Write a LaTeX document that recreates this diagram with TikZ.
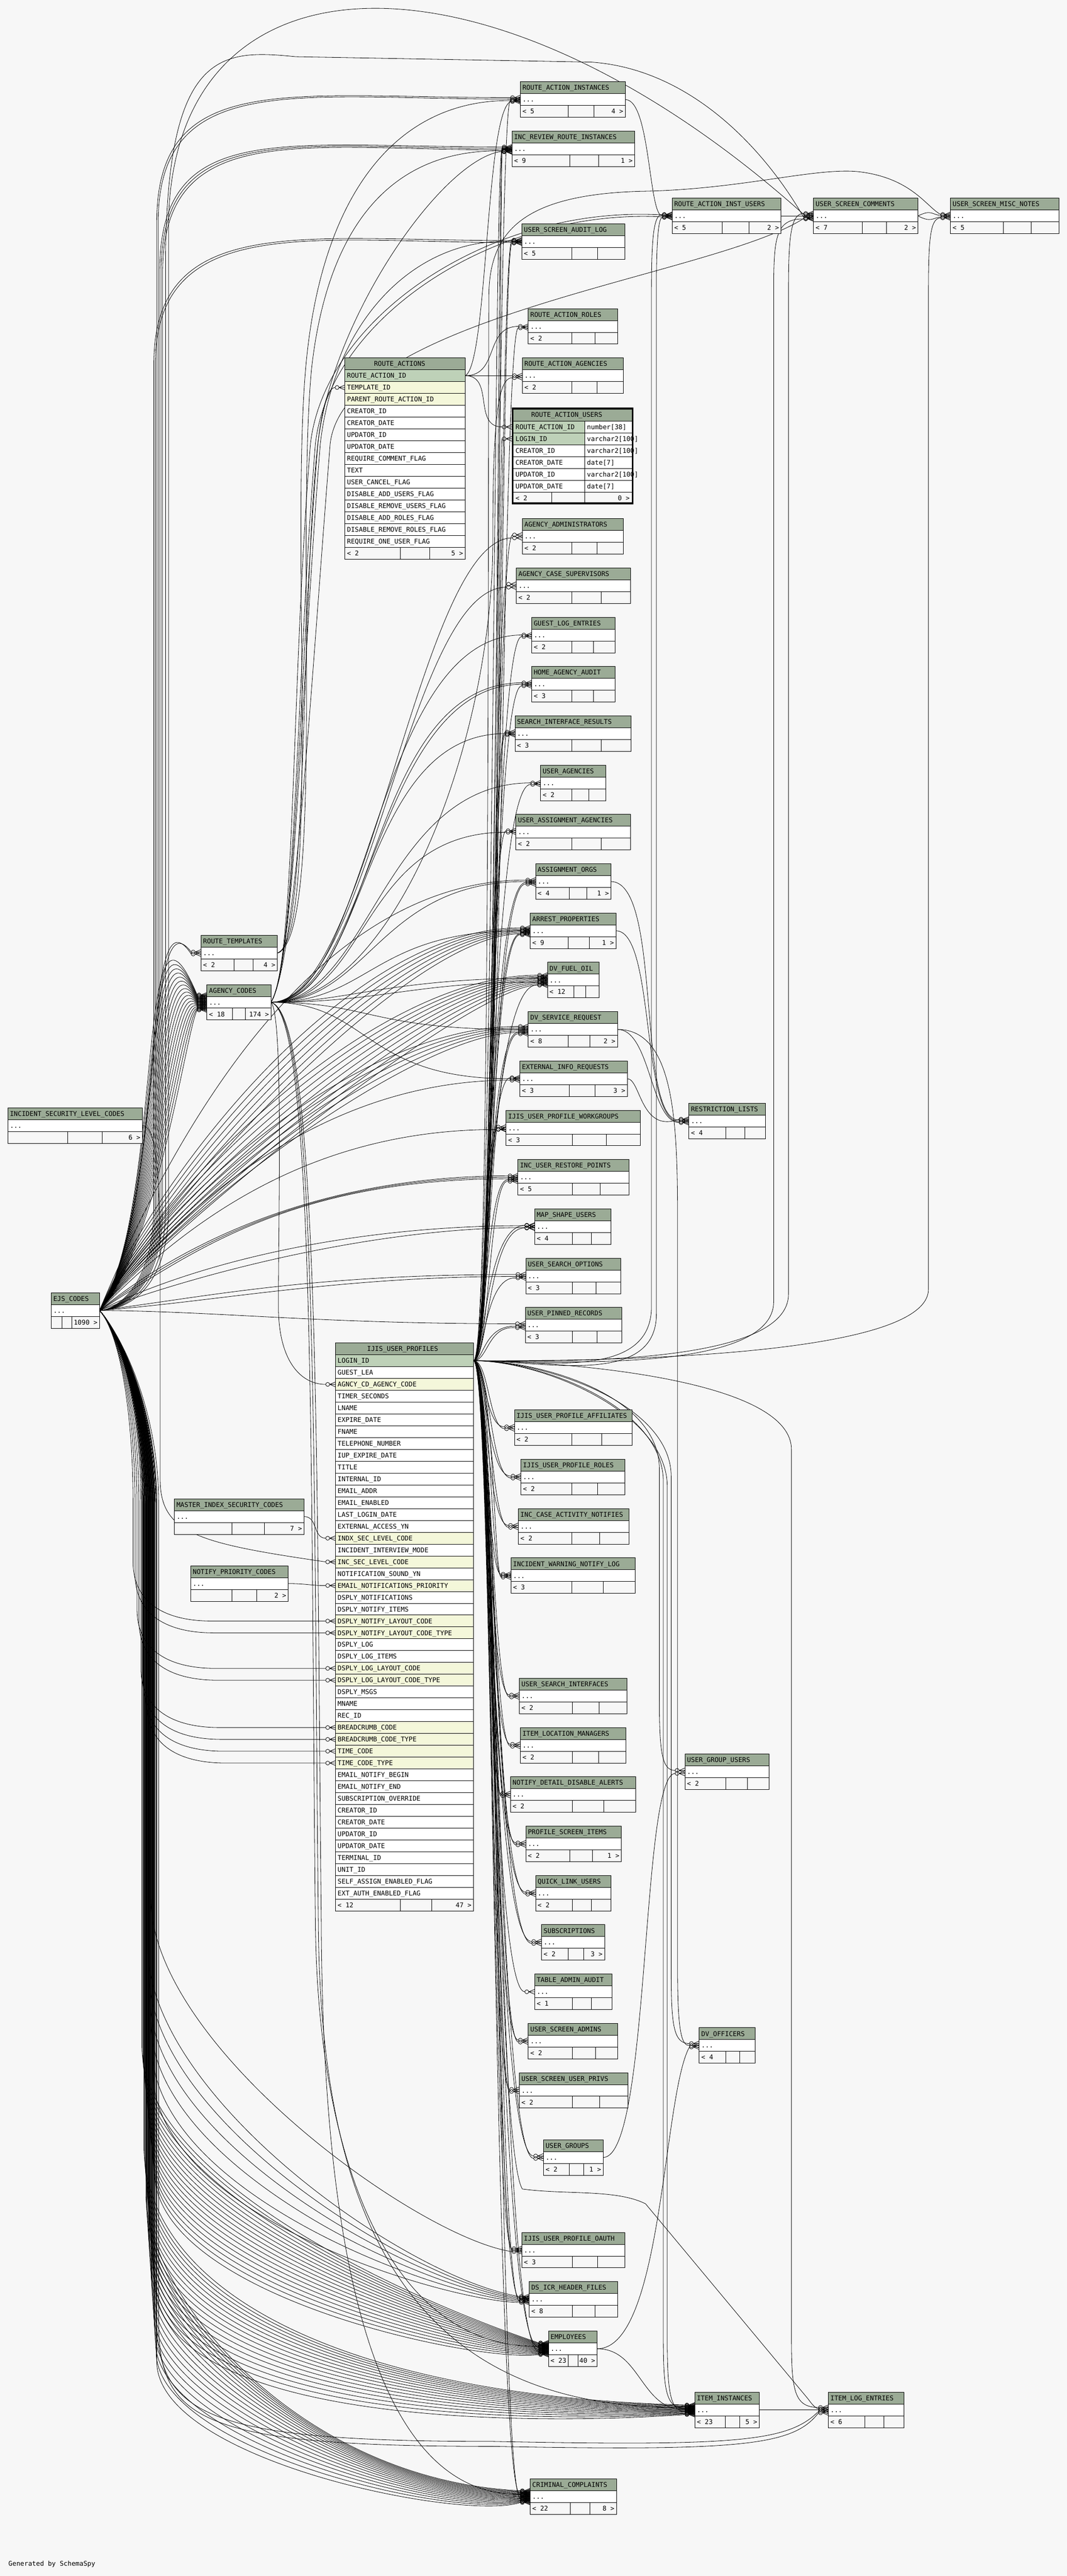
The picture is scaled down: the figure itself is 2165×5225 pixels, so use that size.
\documentclass[tikz,border=0pt]{standalone}
\usepackage{fontspec}
\newfontfamily\monofam{DejaVu Sans Mono}
\usetikzlibrary{calc}
\definecolor{bgc}{HTML}{F7F7F7}
\definecolor{hdr}{HTML}{9BAB96}
\definecolor{pkc}{HTML}{BED1B8}
\definecolor{fkc}{HTML}{F4F7DA}
\pgfdeclarelayer{bgl}
\pgfdeclarelayer{edges}
\pgfsetlayers{bgl,edges,main}
\tikzset{
  tt/.style={font=\monofam\fontsize{13.3}{15}\selectfont, inner sep=0pt, anchor=base west, text=black},
  ttr/.style={tt, anchor=base east},
  ttc/.style={tt, anchor=base},
  cell/.style={draw=black, line width=1pt},
  fk/.style={draw=black, line width=0.85pt},
  fkm/.style={draw=black, line width=0.85pt},
  tblnode/.style={inner sep=0pt, anchor=north west},
}
% small table: name, x1, y1, x2, title, left footer, right footer, div1, div2
\newcommand\smtbl[9]{%
  \filldraw[cell,fill=hdr] (#2,#3) rectangle (#4,#3+24);
  \filldraw[cell,fill=white] (#2,#3+24) rectangle (#4,#3+48);
  \filldraw[cell,fill=bgc] (#2,#3+48) rectangle (#4,#3+72);
  \draw[cell] (#8,#3+48) -- (#8,#3+72) (#9,#3+48) -- (#9,#3+72);
  \node[tt] at (#2+4,#3+16.8) {#5};
  \node[tt] at (#2+4,#3+40.8) {...};
  \node[tt] at (#2+4,#3+64.8) {#6};
  \node[ttr] at (#4-4,#3+64.8) {#7};
  \node[tblnode, minimum width={(#4-#2)*1pt}, minimum height=72pt] (#1) at (#2,#3) {};
  \coordinate (#1-in) at (#2,#3+36);
  \coordinate (#1-out) at (#4,#3+36);
}
% crow's foot with circle at a child port
\newcommand\crow[2]{%
  \draw[fkm] ($(#1)+({-16},{#2})$) circle[radius=4pt];
  \draw[fkm] ($(#1)+({-12},{#2})$) -- ($(#1)+({0},{#2-5})$) ($(#1)+({-12},{#2})$) -- ($(#1)+({0},{#2})$) ($(#1)+({-12},{#2})$) -- ($(#1)+({0},{#2+5})$);}
\newcommand\fkS[6]{\draw[fk] (#1) .. controls +(#3,0) and +(-#4,#6) .. ($(#2)+({-20},{#5})$); \crow{#2}{#5}}
\newcommand\eTop[5]{\draw[fk] (EJS-out) .. controls ({#2-70},2656) and (#2,2600) .. (#2,2450) -- ({#2},{#3+250}) .. controls ({#2},{#3-60}) and ({#2+#5},{#3+(#4)}) .. ($(#1-in)+({-20},{#4})$); \crow{#1-in}{#4}}
\newcommand\eMid[5]{\draw[fk] (EJS-out) .. controls ({#2},{#3}) and +({-#4},0) .. ($(#1-in)+({-20},{#5})$); \crow{#1-in}{#5}}
% EJS -> lower tables down the left corridor: child, xc, ybottom, h, c2x, c2y, dy
\newcommand\eLo[7]{\draw[fk] (EJS-out) .. controls (240,2700) and ({#2},2850) .. ({#2},3050) -- ({#2},{#3}) .. controls ({#2},{#3+#4}) and ({#5},{#6}) .. ($(#1-in)+({-20},{#7})$); \crow{#1-in}{#7}}
\newcommand\iL[4]{\draw[fk] (IJ-out) .. controls ({#2},2760) and ({#2},{#3}) .. ($(#1-in)+({-20},{#4})$); \crow{#1-in}{#4}}
\newcommand\iU[5]{\draw[fk] (IJ-out) .. controls (1100,2760) and ({#2},{#3}) .. ({#2},{#3-150}) -- ({#2},{#4+150}) .. controls ({#2},{#4+40}) and ({#2+5},{#4+(#5)}) .. ($(#1-in)+({-20},{#5})$); \crow{#1-in}{#5}}
\newcommand\iD[5]{\draw[fk] (IJ-out) .. controls (1100,2760) and ({#2},{#3}) .. ({#2},{#3+150}) -- ({#2},{#4-150}) .. controls ({#2},{#4-40}) and ({#2+5},{#4+(#5)}) .. ($(#1-in)+({-20},{#5})$); \crow{#1-in}{#5}}
\newcommand\eIJ[2]{\draw[fk] (EJS-out) .. controls (240,2700) and ({#2},2850) .. ({#2},3050) -- ({#2},{2616+24*#1}) .. controls ({#2},{2696+24*#1}) and ({#2+60},{2736+24*#1}) .. ({#2+160},{2736+24*#1}) -- ($(IJr#1)+(-20,0)$); \crow{IJr#1}{0}}
\newcommand\aTop[5]{\draw[fk] (AG-out) .. controls (600,1950) and ({#3-40},1400) .. ({#3},900) .. controls ({#3+30},640) and ({#4},{#5}) .. ($(#1-in)+({-20},{#2})$); \crow{#1-in}{#2}}

\begin{document}
\begin{tikzpicture}[x=1pt,y=-1pt]
\useasboundingbox (0,0) rectangle (2165,5225);
\begin{pgfonlayer}{bgl}
\fill[bgc] (0,0) rectangle (2165,5225);
\end{pgfonlayer}

% ---------------- tables ----------------
\smtbl{RAI}{1056}{166}{1269}{ROUTE\_ACTION\_INSTANCES}{< 5}{4 >}{1153}{1205}
\smtbl{IRRI}{1039}{266}{1288}{INC\_REVIEW\_ROUTE\_INSTANCES}{< 9}{1 >}{1156}{1215}
\smtbl{RAIU}{1364}{402}{1585}{ROUTE\_ACTION\_INST\_USERS}{< 5}{2 >}{1466}{1520}
\smtbl{USC}{1651}{402}{1863}{USER\_SCREEN\_COMMENTS}{< 7}{2 >}{1750}{1799}
\smtbl{USMN}{1929}{402}{2149}{USER\_SCREEN\_MISC\_NOTES}{< 5}{}{2036}{2093}
\smtbl{USAL}{1059}{454}{1268}{USER\_SCREEN\_AUDIT\_LOG}{< 5}{}{1160}{1213}
\smtbl{RAR}{1072}{626}{1253}{ROUTE\_ACTION\_ROLES}{< 2}{}{1160}{1207}
\smtbl{RAA}{1060}{726}{1265}{ROUTE\_ACTION\_AGENCIES}{< 2}{}{1160}{1212}
\smtbl{AA}{1060}{1052}{1265}{AGENCY\_ADMINISTRATORS}{< 2}{}{1160}{1212}
\smtbl{ACS}{1048}{1152}{1280}{AGENCY\_CASE\_SUPERVISORS}{< 2}{}{1160}{1220}
\smtbl{GLE}{1079}{1252}{1248}{GUEST\_LOG\_ENTRIES}{< 2}{}{1160}{1204}
\smtbl{HAA}{1079}{1352}{1248}{HOME\_AGENCY\_AUDIT}{< 3}{}{1160}{1204}
\smtbl{SIR}{1045}{1452}{1281}{SEARCH\_INTERFACE\_RESULTS}{< 3}{}{1160}{1220}
\smtbl{UA}{1097}{1552}{1229}{USER\_AGENCIES}{< 2}{}{1160}{1195}
\smtbl{UAA}{1047}{1652}{1280}{USER\_ASSIGNMENT\_AGENCIES}{< 2}{}{1160}{1220}
\smtbl{AO}{1087}{1752}{1240}{ASSIGNMENT\_ORGS}{< 4}{1 >}{1155}{1191}
\smtbl{ARP}{1076}{1852}{1250}{ARREST\_PROPERTIES}{< 9}{1 >}{1153}{1196}
\smtbl{DVFO}{1111}{1952}{1216}{DV\_FUEL\_OIL}{< 12}{}{1165}{1189}
\smtbl{DVSR}{1072}{2052}{1253}{DV\_SERVICE\_REQUEST}{< 8}{2 >}{1153}{1197}
\smtbl{EIR}{1055}{2152}{1273}{EXTERNAL\_INFO\_REQUESTS}{< 3}{3 >}{1155}{1207}
\smtbl{IUPW}{1027}{2252}{1299}{IJIS\_USER\_PROFILE\_WORKGROUPS}{< 3}{}{1161}{1230}
\smtbl{IURP}{1051}{2352}{1276}{INC\_USER\_RESTORE\_POINTS}{< 5}{}{1161}{1218}
\smtbl{MSU}{1085}{2452}{1240}{MAP\_SHAPE\_USERS}{< 4}{}{1161}{1200}
\smtbl{USO}{1067}{2552}{1260}{USER\_SEARCH\_OPTIONS}{< 3}{}{1161}{1210}
\smtbl{UPR}{1066}{2652}{1262}{USER\_PINNED\_RECORDS}{< 3}{}{1161}{1212}
\smtbl{RL}{1398}{2238}{1553}{RESTRICTION\_LISTS}{< 4}{}{1473}{1512}
\smtbl{RT}{408}{1897}{563}{ROUTE\_TEMPLATES}{< 2}{4 >}{475}{514}
\smtbl{AG}{420}{1997}{550}{AGENCY\_CODES}{< 18}{174 >}{471.5}{497.5}
\smtbl{ISLC}{16}{2247}{289}{INCIDENT\_SECURITY\_LEVEL\_CODES}{}{6 >}{137}{207}
\smtbl{EJS}{104}{2622}{202}{EJS\_CODES}{}{1090 >}{125.5}{146}
\smtbl{AFF}{1044}{2860}{1283}{IJIS\_USER\_PROFILE\_AFFILIATES}{< 2}{}{1160}{1221}
\smtbl{ROL}{1057}{2960}{1268}{IJIS\_USER\_PROFILE\_ROLES}{< 2}{}{1160}{1213}
\smtbl{ICAN}{1052}{3060}{1276}{INC\_CASE\_ACTIVITY\_NOTIFIES}{< 2}{}{1160}{1217}
\smtbl{IWNL}{1037}{3160}{1289}{INCIDENT\_WARNING\_NOTIFY\_LOG}{< 3}{}{1160}{1224}
\smtbl{MISC}{354}{3040}{617}{MASTER\_INDEX\_SECURITY\_CODES}{}{7 >}{471}{537}
\smtbl{NPC}{387}{3176}{585}{NOTIFY\_PRIORITY\_CODES}{}{2 >}{471}{521}
\smtbl{USI}{1054}{3404}{1272}{USER\_SEARCH\_INTERFACES}{< 2}{}{1161}{1216}
\smtbl{ILM}{1056}{3504}{1270}{ITEM\_LOCATION\_MANAGERS}{< 2}{}{1161}{1215}
\smtbl{NDDA}{1036}{3604}{1290}{NOTIFY\_DETAIL\_DISABLE\_ALERTS}{< 2}{}{1161}{1225}
\smtbl{PSI}{1067}{3704}{1261}{PROFILE\_SCREEN\_ITEMS}{< 2}{1 >}{1156}{1202}
\smtbl{QLU}{1087}{3804}{1240}{QUICK\_LINK\_USERS}{< 2}{}{1161}{1200}
\smtbl{SUB}{1099}{3904}{1227}{SUBSCRIPTIONS}{< 2}{3 >}{1153}{1184}
\smtbl{TAA}{1085}{4004}{1242}{TABLE\_ADMIN\_AUDIT}{< 1}{}{1161}{1200}
\smtbl{USA}{1072}{4104}{1253}{USER\_SCREEN\_ADMINS}{< 2}{}{1161}{1208}
\smtbl{USUP}{1054}{4204}{1274}{USER\_SCREEN\_USER\_PRIVS}{< 2}{}{1161}{1217}
\smtbl{UG}{1103}{4340}{1224}{USER\_GROUPS}{< 2}{1 >}{1155}{1184}
\smtbl{UGU}{1390}{3558}{1561}{USER\_GROUP\_USERS}{< 2}{}{1473}{1517}
\smtbl{DVO}{1419}{4113}{1532}{DV\_OFFICERS}{< 4}{}{1473}{1501}
\smtbl{OAU}{1059}{4528}{1268}{IJIS\_USER\_PROFILE\_OAUTH}{< 3}{}{1161}{1213}
\smtbl{DSI}{1074}{4628}{1253}{DS\_ICR\_HEADER\_FILES}{< 8}{}{1161}{1207}
\smtbl{EMP}{1113}{4728}{1212}{EMPLOYEES}{< 23}{40 >}{1153}{1173}
\smtbl{II}{1410}{4852}{1541}{ITEM\_INSTANCES}{< 23}{5 >}{1472}{1501}
\smtbl{ILE}{1681}{4852}{1834}{ITEM\_LOG\_ENTRIES}{< 6}{}{1755}{1794}
\smtbl{CC}{1076}{5028}{1251}{CRIMINAL\_COMPLAINTS}{< 22}{8 >}{1157}{1197.5}

% ROUTE_ACTIONS
\filldraw[cell,fill=hdr] (700,726) rectangle (944,750);
\node[ttc] at (811,742.8) {ROUTE\_ACTIONS};
\foreach \nm/\fc [count=\ii] in {ROUTE\_ACTION\_ID/pkc, TEMPLATE\_ID/fkc, PARENT\_ROUTE\_ACTION\_ID/fkc, CREATOR\_ID/white, CREATOR\_DATE/white, UPDATOR\_ID/white, UPDATOR\_DATE/white, REQUIRE\_COMMENT\_FLAG/white, TEXT/white, USER\_CANCEL\_FLAG/white, DISABLE\_ADD\_USERS\_FLAG/white, DISABLE\_REMOVE\_USERS\_FLAG/white, DISABLE\_ADD\_ROLES\_FLAG/white, DISABLE\_REMOVE\_ROLES\_FLAG/white, REQUIRE\_ONE\_USER\_FLAG/white}{%
  \filldraw[cell,fill=\fc] (700,{726+24*\ii}) rectangle (944,{750+24*\ii});
  \node[tt] at (704,{742.8+24*\ii}) {\nm};}
\filldraw[cell,fill=bgc] (700,1110) rectangle (944,1134);
\draw[cell] (812,1110) -- (812,1134) (872,1110) -- (872,1134);
\node[tt] at (704,1126.8) {< 2};
\node[ttr] at (940,1126.8) {5 >};
\node[tblnode, minimum width=244pt, minimum height=408pt] (RA) at (700,726) {};
\coordinate (RApk) at (944,762);
\coordinate (RAtm-in) at (700,786);

% ROUTE_ACTION_USERS (focus table)
\filldraw[cell,fill=hdr] (1039,827) rectangle (1285,854);
\node[ttc] at (1150,845.5) {ROUTE\_ACTION\_USERS};
\foreach \nm/\ty/\fc [count=\ii from 0] in {ROUTE\_ACTION\_ID/number[38]/pkc, LOGIN\_ID/varchar2[100]/pkc, CREATOR\_ID/varchar2[100]/white, CREATOR\_DATE/date[7]/white, UPDATOR\_ID/varchar2[100]/white, UPDATOR\_DATE/date[7]/white}{%
  \filldraw[cell,fill=\fc] (1039,{854+24*\ii}) rectangle (1187,{878+24*\ii});
  \filldraw[cell,fill=white] (1187,{854+24*\ii}) rectangle (1285,{878+24*\ii});
  \node[tt] at (1046,{870.8+24*\ii}) {\nm};
  \node[tt] at (1191,{870.8+24*\ii}) {\ty};}
\filldraw[cell,fill=bgc] (1039,998) rectangle (1285,1022);
\draw[cell] (1120,998) -- (1120,1022) (1187,998) -- (1187,1022);
\node[tt] at (1046,1014.8) {< 2};
\node[ttr] at (1278,1014.8) {0 >};
\draw[line width=3.5pt] (1040.5,828.5) rectangle (1283.5,1020.5);
\node[tblnode, minimum width=246pt, minimum height=195pt] (RAU) at (1039,827) {};
\coordinate (RAUra-in) at (1039,866);
\coordinate (RAUlg-in) at (1039,890);

% IJIS_USER_PROFILES
\filldraw[cell,fill=hdr] (681,2724) rectangle (961,2748);
\node[ttc] at (817,2740.8) {IJIS\_USER\_PROFILES};
\foreach \nm/\fc [count=\ii] in {LOGIN\_ID/pkc, GUEST\_LEA/white, AGNCY\_CD\_AGENCY\_CODE/fkc, TIMER\_SECONDS/white, LNAME/white, EXPIRE\_DATE/white, FNAME/white, TELEPHONE\_NUMBER/white, IUP\_EXPIRE\_DATE/white, TITLE/white, INTERNAL\_ID/white, EMAIL\_ADDR/white, EMAIL\_ENABLED/white, LAST\_LOGIN\_DATE/white, EXTERNAL\_ACCESS\_YN/white, INDX\_SEC\_LEVEL\_CODE/fkc, INCIDENT\_INTERVIEW\_MODE/white, INC\_SEC\_LEVEL\_CODE/fkc, NOTIFICATION\_SOUND\_YN/white, EMAIL\_NOTIFICATIONS\_PRIORITY/fkc, DSPLY\_NOTIFICATIONS/white, DSPLY\_NOTIFY\_ITEMS/white, DSPLY\_NOTIFY\_LAYOUT\_CODE/fkc, DSPLY\_NOTIFY\_LAYOUT\_CODE\_TYPE/fkc, DSPLY\_LOG/white, DSPLY\_LOG\_ITEMS/white, DSPLY\_LOG\_LAYOUT\_CODE/fkc, DSPLY\_LOG\_LAYOUT\_CODE\_TYPE/fkc, DSPLY\_MSGS/white, MNAME/white, REC\_ID/white, BREADCRUMB\_CODE/fkc, BREADCRUMB\_CODE\_TYPE/fkc, TIME\_CODE/fkc, TIME\_CODE\_TYPE/fkc, EMAIL\_NOTIFY\_BEGIN/white, EMAIL\_NOTIFY\_END/white, SUBSCRIPTION\_OVERRIDE/white, CREATOR\_ID/white, CREATOR\_DATE/white, UPDATOR\_ID/white, UPDATOR\_DATE/white, TERMINAL\_ID/white, UNIT\_ID/white, SELF\_ASSIGN\_ENABLED\_FLAG/white, EXT\_AUTH\_ENABLED\_FLAG/white}{%
  \filldraw[cell,fill=\fc] (681,{2724+24*\ii}) rectangle (961,{2748+24*\ii});
  \node[tt] at (685,{2740.8+24*\ii}) {\nm};}
\filldraw[cell,fill=bgc] (681,3852) rectangle (961,3876);
\draw[cell] (812,3852) -- (812,3876) (876,3852) -- (876,3876);
\node[tt] at (685,3868.8) {< 12};
\node[ttr] at (957,3868.8) {47 >};
\node[tblnode, minimum width=280pt, minimum height=1152pt] (IJ) at (681,2724) {};
\coordinate (IJ-out) at (961,2760);
\foreach \ii in {1,...,46}{\coordinate (IJr\ii) at (681,{2736+24*\ii});}

\node[tt] (gen) at (17,5205) {Generated by SchemaSpy};

% ---------------- connectors ----------------
\begin{pgfonlayer}{edges}
% ROUTE_ACTIONS children
\draw[fk] (RApk) .. controls +(70,0) and +(-70,0) .. ($(RAR-in)+(-20,0)$); \crow{RAR-in}{0}
\draw[fk] (RApk) -- ($(RAA-in)+(-20,0)$); \crow{RAA-in}{0}
\draw[fk] (RApk) .. controls +(60,0) and +(-60,0) .. ($(RAUra-in)+(-20,0)$); \crow{RAUra-in}{0}
\draw[fk] (RApk) .. controls (990,740) and (985,230) .. ($(RAI-in)+(-20,4)$); \crow{RAI-in}{4}
% ROUTE_TEMPLATES children
\draw[fk] (RT-out) .. controls (640,1933) and (600,786) .. ($(RAtm-in)+(-20,0)$); \crow{RAtm-in}{0}
\draw[fk] (RT-out) .. controls (650,1900) and (590,1100) .. (620,750) .. controls (650,400) and (800,202) .. ($(RAI-in)+(-20,2)$); \crow{RAI-in}{2}
\draw[fk] (RT-out) .. controls (660,1900) and (600,1100) .. (632,750) .. controls (665,450) and (800,302) .. ($(IRRI-in)+(-20,4)$); \crow{IRRI-in}{4}

% EJS_CODES -> AGENCY_CODES
\foreach \k in {0,...,17}{\draw[fk] (EJS-out) .. controls ({335-\k},{2450+5*\k}) and ({275+6*\k},{1720+22*\k}) .. ($(AG-in)+({-20},{-15+1.8*\k})$); \crow{AG-in}{-15+1.8*\k}}
% EJS_CODES -> ROUTE_TEMPLATES
\draw[fk] (EJS-out) .. controls (338,2440) and (290,1800) .. ($(RT-in)+(-20,-2)$); \crow{RT-in}{-2}
\draw[fk] (EJS-out) .. controls (342,2430) and (284,1780) .. ($(RT-in)+(-20,2)$); \crow{RT-in}{2}
% EJS_CODES -> top tables
\eTop{RAI}{318}{202}{-4}{260}
\eTop{RAI}{321}{202}{-1}{280}
\eTop{IRRI}{324}{302}{-4}{240}
\eTop{IRRI}{327}{302}{-1}{260}
\eTop{IRRI}{330}{302}{2}{280}
\eTop{USAL}{312}{490}{-2}{300}
\eTop{USAL}{315}{490}{2}{320}
\draw[fk] (EJS-out) .. controls (272,2656) and (342,2600) .. (342,2450) -- (342,450) .. controls (352,-120) and (1000,-130) .. ($(USC-in)+(-20,-3)$); \crow{USC-in}{-3}
\draw[fk] (EJS-out) .. controls (266,2656) and (336,2600) .. (336,2450) -- (336,520) .. controls (340,100) and (450,100) .. (600,115) -- (1200,126) .. controls (1400,140) and (1550,300) .. ($(USC-in)+(-20,3)$); \crow{USC-in}{3}
% EJS_CODES -> middle column
\eMid{AO}{330}{2350}{450}{-3}
\foreach \k in {0,...,5}{\eMid{ARP}{322+5*\k}{2380+8*\k}{350+25*\k}{-6+2.4*\k}}
\foreach \k in {0,...,8}{\eMid{DVFO}{330+5*\k}{2400+8*\k}{330+25*\k}{-10+2.5*\k}}
\foreach \k in {0,...,4}{\eMid{DVSR}{340+5*\k}{2430+8*\k}{330+30*\k}{-6+3*\k}}
\eMid{EIR}{350}{2470}{400}{3}
\eMid{IUPW}{360}{2500}{400}{3}
\foreach \k in {0,1,2}{\eMid{IURP}{370+10*\k}{2520+10*\k}{380-30*\k}{-3+3*\k}}
\eMid{MSU}{400}{2560}{350}{-2}
\eMid{MSU}{410}{2580}{300}{2}
\eMid{USO}{420}{2630}{420}{-3}
\eMid{USO}{440}{2640}{360}{1}
\eMid{UPR}{450}{2660}{400}{-3}
% EJS_CODES -> lower tables (down the left corridor, then fanning out)
\foreach \k in {0,...,17}{\eLo{EMP}{288+1.5*\k}{4150+15*\k}{250}{760+12*\k}{4640+9*\k}{-12+1.4*\k}}
\foreach \k in {0,...,15}{\eLo{II}{292+1.4*\k}{4350+18*\k}{300}{700+25*\k}{4860+4*\k}{-10+1.3*\k}}
\foreach \k in {0,...,17}{\eLo{CC}{296+1.3*\k}{4450+20*\k}{200}{600+20*\k}{5030+5*\k}{-12+1.4*\k}}
\foreach \k in {0,...,5}{\eLo{DSI}{300+2*\k}{3950+50*\k}{300}{820+20*\k}{4620+10*\k}{-6+2.4*\k}}
\eLo{OAU}{306}{3850}{300}{850}{4540}{3}
\draw[fk] (EJS-out) .. controls (240,2700) and (318,2850) .. (318,3050) -- (318,4700) .. controls (318,4900) and (420,4952) .. (1000,4952) .. controls (1500,4962) and (1600,4952) .. ($(ILE-in)+(-20,3)$); \crow{ILE-in}{3}
\draw[fk] (EJS-out) .. controls (240,2700) and (322,2850) .. (322,3050) -- (322,4710) .. controls (322,4910) and (410,4962) .. (1000,4962) .. controls (1510,4972) and (1610,4960) .. ($(ILE-in)+(-20,6)$); \crow{ILE-in}{6}
% EJS_CODES -> IJIS_USER_PROFILES code columns
\foreach \rr/\cx in {23/270,24/274,27/278,28/282,32/286,33/290,34/294,35/298}{\eIJ{\rr}{\cx}}
% other parents of IJIS_USER_PROFILES
\draw[fk] (AG-out) .. controls (575,2060) and (565,2450) .. (565,2650) .. controls (565,2760) and (610,2808) .. ($(IJr3)+(-20,0)$); \crow{IJr3}{0}
\draw[fk] (MISC-out) .. controls (645,3076) and (635,3120) .. ($(IJr16)+(-20,0)$); \crow{IJr16}{0}
\draw[fk] (ISLC-out) .. controls (320,2283) and (325,2400) .. (325,2600) -- (325,3000) .. controls (325,3110) and (400,3130) .. ($(IJr18)+(-20,0)$); \crow{IJr18}{0}
\draw[fk] (NPC-out) .. controls (620,3212) and (630,3216) .. ($(IJr20)+(-20,0)$); \crow{IJr20}{0}

% AGENCY_CODES children
\draw[fk] (AG-out) .. controls (800,2033) and (1000,1500) .. (1000,1100) .. controls (1000,850) and (1010,766) .. ($(RAA-in)+(-20,4)$); \crow{RAA-in}{4}
\fkS{AG-out}{AA-in}{200}{190}{3}{0}
\fkS{AG-out}{ACS-in}{200}{200}{3}{0}
\fkS{AG-out}{GLE-in}{200}{300}{0}{0}
\fkS{AG-out}{HAA-in}{200}{300}{0}{0}
\fkS{AG-out}{HAA-in}{215}{320}{-3}{0}
\fkS{AG-out}{SIR-in}{200}{300}{0}{0}
\fkS{AG-out}{UA-in}{200}{300}{0}{0}
\fkS{AG-out}{UAA-in}{200}{300}{0}{0}
\fkS{AG-out}{AO-in}{200}{300}{0}{0}
\fkS{AG-out}{ARP-in}{200}{300}{0}{0}
\fkS{AG-out}{DVFO-in}{150}{300}{-4}{0}
\fkS{AG-out}{DVFO-in}{220}{250}{4}{0}
\fkS{AG-out}{DVSR-in}{200}{300}{0}{0}
\fkS{AG-out}{EIR-in}{200}{300}{0}{0}
\aTop{RAIU}{-2}{630}{1000}{415}
\aTop{RAIU}{2}{640}{1010}{422}
\aTop{USAL}{0}{650}{850}{480}
\aTop{IRRI}{5}{645}{900}{320}
\aTop{USC}{5}{670}{1450}{560}
\draw[fk] (AG-out) .. controls (640,2060) and (630,3000) .. (640,3900) .. controls (645,4400) and (800,4764) .. ($(EMP-in)+(-20,-5)$); \crow{EMP-in}{-5}
\draw[fk] (AG-out) .. controls (645,2060) and (636,3000) .. (646,3900) .. controls (650,4600) and (900,4888) .. ($(II-in)+(-20,-5)$); \crow{II-in}{-5}
\draw[fk] (AG-out) .. controls (650,2060) and (642,3000) .. (652,3900) .. controls (655,4700) and (800,5064) .. ($(CC-in)+(-20,-5)$); \crow{CC-in}{-5}

% IJIS_USER_PROFILES children (left corridor)
\foreach \cn/\xv/\yc/\dy in {RAI/1008/202/1, IRRI/1002/302/-2, IRRI/1010/302/1, IRRI/1014/302/6, USAL/1012/490/-3, USAL/1016/490/3, RAR/1018/662/3, RAUlg/1012/890/0, AA/1006/1088/-3, ACS/1003/1188/-3, GLE/1000/1288/3, HAA/998/1388/3, SIR/996/1488/-3, SIR/1001/1488/2, UA/994/1588/3, UAA/993/1688/-3, AO/991/1788/2, AO/997/1788/5, ARP/990/1888/6, ARP/995/1888/8, DVFO/989/1988/10, DVSR/988/2088/6, DVSR/994/2088/9, EIR/987/2188/-2, IUPW/985/2288/-2, IUPW/992/2288/2, IURP/986/2388/5, IURP/993/2388/8, MSU/984/2488/-3, MSU/991/2488/3, USO/983/2588/4, UPR/982/2688/2, UPR/990/2688/5, AFF/984/2896/-2, AFF/992/2896/2, ROL/986/2996/-2, ROL/994/2996/2, ICAN/987/3096/-2, ICAN/995/3096/2, IWNL/988/3196/-3, IWNL/996/3196/0, IWNL/1002/3196/3, USI/989/3440/-2, USI/997/3440/2, ILM/990/3540/-2, ILM/998/3540/2, NDDA/991/3640/-2, NDDA/999/3640/2, PSI/992/3740/-2, PSI/1000/3740/2, QLU/993/3840/-2, QLU/1001/3840/2, SUB/994/3940/-2, SUB/1002/3940/2, TAA/995/4040/0, USA/996/4140/-2, USA/1004/4140/2, USUP/997/4240/-2, USUP/1005/4240/2, UG/998/4376/-3, UG/1006/4376/2, OAU/999/4564/-3, OAU/1007/4564/0, DSI/1000/4664/-3, DSI/1008/4664/3, EMP/1001/4764/-4, EMP/1009/4764/5, CC/1002/5064/-4, CC/1010/5064/4}{\iL{\cn}{\xv}{\yc}{\dy}}
\draw[fk] (IJ-out) .. controls (995,2760) and (990,1000) .. (992,600) .. controls (993,470) and (1060,395) .. (1300,388) .. controls (1500,385) and (1650,340) .. (1740,348) .. controls (1850,360) and (1880,420) .. ($(USMN-in)+(-20,-3)$); \crow{USMN-in}{-3}
\draw[fk] (IJ-out) .. controls (1003,2760) and (1003,4350) .. (1060,4440) .. controls (1150,4452) and (1250,4440) .. (1310,4470) -- (1640,4866) .. controls (1650,4880) and (1655,4884) .. ($(ILE-in)+(-20,-2)$); \crow{ILE-in}{-2}
% IJIS_USER_PROFILES children (right corridors)
\iU{RAIU}{1322}{2800}{438}{-3}
\iU{RAIU}{1332}{2815}{438}{3}
\iU{USC}{1570}{2790}{438}{6}
\iU{USC}{1600}{2775}{438}{-5}
\iU{USMN}{1884}{2765}{438}{4}
\iD{UGU}{1338}{2830}{3594}{-3}
\iD{DVO}{1362}{2845}{4149}{-4}
\iD{II}{1346}{2855}{4888}{-3}
\iD{II}{1354}{2865}{4888}{3}
\iD{ILE}{1606}{2790}{4888}{-5}

% other child links
\draw[fk] (RAI-out) .. controls (1320,202) and (1316,438) .. ($(RAIU-in)+(-20,0)$); \crow{RAIU-in}{0}
\draw[fk] (RAIU-out) -- ($(USC-in)+(-20,0)$); \crow{USC-in}{0}
\draw[fk] (USC-out) .. controls (1890,424) and (1892,436) .. ($(USMN-in)+(-20,-1)$); \crow{USMN-in}{-1}
\draw[fk] (USC-out) .. controls (1890,452) and (1892,442) .. ($(USMN-in)+(-20,2)$); \crow{USMN-in}{2}
\draw[fk] (AO-out) .. controls (1345,1790) and (1290,2272) .. ($(RL-in)+(-20,-2)$); \crow{RL-in}{-2}
\draw[fk] (ARP-out) .. controls (1330,1888) and (1300,2275) .. ($(RL-in)+(-20,1)$); \crow{RL-in}{1}
\draw[fk] (DVSR-out) .. controls (1320,2088) and (1320,2275) .. ($(RL-in)+(-20,3)$); \crow{RL-in}{3}
\draw[fk] (EIR-out) .. controls (1300,2188) and (1300,2300) .. ($(RL-in)+(-20,-4)$); \crow{RL-in}{-4}
\draw[fk] (DVSR-out) .. controls (1375,2088) and (1375,2300) .. (1375,2500) -- (1375,4000) .. controls (1375,4130) and (1385,4149) .. ($(DVO-in)+(-20,0)$); \crow{DVO-in}{0}
\draw[fk] (UG-out) .. controls (1320,4376) and (1300,3600) .. ($(UGU-in)+(-20,3)$); \crow{UGU-in}{3}
\draw[fk] (EMP-out) .. controls (1300,4764) and (1300,4888) .. ($(II-in)+(-20,0)$); \crow{II-in}{0}
\draw[fk] (EMP-out) .. controls (1345,4764) and (1345,4250) .. ($(DVO-in)+(-20,3)$); \crow{DVO-in}{3}
\draw[fk] (II-out) -- ($(ILE-in)+(-20,0)$); \crow{ILE-in}{0}
\end{pgfonlayer}
\end{tikzpicture}
\end{document}
